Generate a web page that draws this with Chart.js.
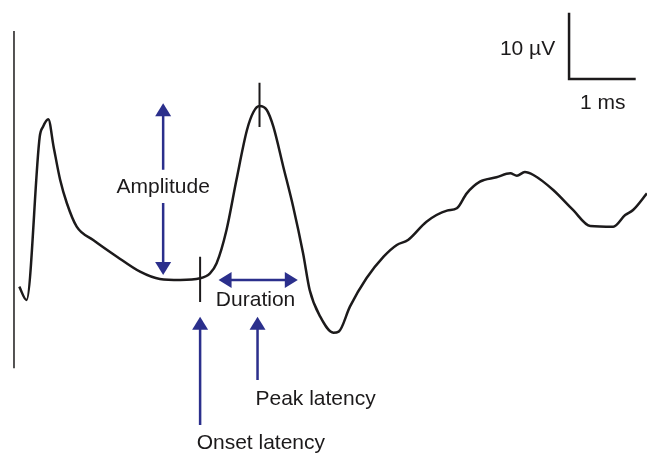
<!DOCTYPE html>
<html>
<head>
<meta charset="utf-8">
<script src="https://cdn.jsdelivr.net/npm/chart.js@4.4.1/dist/chart.umd.min.js"></script>
<style>
  body { margin: 0; background: #fff; }
  #wrap { width: 647px; height: 455px; position: relative; }
</style>
</head>
<body>
<div id="wrap"><canvas id="grafica"></canvas></div>
<script>
// waveform, time in ms, amplitude in microvolts (baseline = 0)
const timeMs = [0.08, 0.19, 0.39, 0.44, 0.52, 0.60, 0.70, 0.80, 0.95, 1.20, 1.56, 1.91, 2.21, 2.52, 2.82, 2.97,
  3.07, 3.22, 3.37, 3.53, 3.63, 3.72, 3.83, 3.93, 4.08, 4.23, 4.38, 4.48, 4.64, 4.84, 4.92, 5.09, 5.34, 5.60,
  5.80, 5.97, 6.25, 6.56, 6.71, 6.86, 7.06, 7.31, 7.52, 7.62, 7.74, 7.87, 8.17, 8.47, 8.73, 9.08, 9.26, 9.38, 9.59];
const microV = [-1.36, -3.44, 22.08, 23.64, 24.80, 20.52, 15.31, 11.72, 8.02, 5.94, 3.33, 0.98, -0.16, -0.31, -0.05, 0.73,
  2.30, 7.50, 15.31, 23.13, 25.98, 26.88, 26.25, 23.64, 17.39, 11.14, 3.86, -1.88, -6.05, -8.55, -8.39, -4.48, -0.05, 3.33,
  5.16, 5.94, 8.80, 10.52, 10.89, 13.23, 15.05, 15.73, 16.36, 15.98, 16.56, 16.09, 13.75, 10.63, 8.13, 8.02, 9.84, 10.63, 13.23];

// markers
const onsetMs = 2.82;
const peakMs = 3.72;
const amplitudeMs = 2.26;
const durationFrom = 3.10, durationTo = 4.30;
const peakV = 26.88;

const labels = ['Amplitude', 'Duration', 'Peak latency', 'Onset latency', '10 \u00b5V', '1 ms'];

const ink = '#1c1a1b';
const blue = '#2b2f8c';

function arrowHead(ctx, x, y, dx, dy) {
  // dx,dy direction unit vector the arrow points to
  var len = 13, half = 8;
  ctx.beginPath();
  ctx.moveTo(x, y);
  ctx.lineTo(x - dx * len - dy * half, y - dy * len + dx * half);
  ctx.lineTo(x - dx * len + dy * half, y - dy * len - dx * half);
  ctx.closePath();
  ctx.fill();
}

const marcas = {
  id: 'marcas',
  afterDatasetsDraw(chart) {
    const ctx = chart.ctx;
    const sx = chart.scales.x, sy = chart.scales.y;
    const X = v => sx.getPixelForValue(v);
    const Y = v => sy.getPixelForValue(v);
    ctx.save();

    // left reference line
    ctx.strokeStyle = ink;
    ctx.lineWidth = 1.5;
    ctx.beginPath();
    ctx.moveTo(X(0), Y(38.6)); ctx.lineTo(X(0), Y(-14.1));
    ctx.stroke();

    // ticks at onset and peak
    ctx.lineWidth = 2;
    ctx.beginPath();
    ctx.moveTo(X(onsetMs), Y(3.3)); ctx.lineTo(X(onsetMs), Y(-3.75));
    ctx.moveTo(X(peakMs), Y(30.5)); ctx.lineTo(X(peakMs), Y(23.6));
    ctx.stroke();

    // scale bar
    ctx.lineWidth = 2.5;
    ctx.beginPath();
    ctx.moveTo(X(8.41), Y(41.45)); ctx.lineTo(X(8.41), Y(31.1)); ctx.lineTo(X(9.42), Y(31.1));
    ctx.stroke();

    // blue arrows
    ctx.strokeStyle = blue;
    ctx.fillStyle = blue;
    ctx.lineWidth = 2.5;
    ctx.beginPath();
    // amplitude (split around label)
    ctx.moveTo(X(amplitudeMs), Y(peakV) + 10); ctx.lineTo(X(amplitudeMs), Y(16.9));
    ctx.moveTo(X(amplitudeMs), Y(11.7)); ctx.lineTo(X(amplitudeMs), Y(0.47) - 10);
    // duration
    ctx.moveTo(X(durationFrom) + 10, Y(-0.31)); ctx.lineTo(X(durationTo) - 10, Y(-0.31));
    // onset latency
    ctx.moveTo(X(onsetMs), Y(-6.05) + 10); ctx.lineTo(X(onsetMs), Y(-22.97));
    // peak latency
    ctx.moveTo(X(3.69), Y(-6.05) + 10); ctx.lineTo(X(3.69), Y(-15.94));
    ctx.stroke();
    arrowHead(ctx, X(amplitudeMs), Y(27.3), 0, -1);
    arrowHead(ctx, X(amplitudeMs), Y(0.47), 0, 1);
    arrowHead(ctx, X(durationFrom), Y(-0.31), -1, 0);
    arrowHead(ctx, X(durationTo), Y(-0.31), 1, 0);
    arrowHead(ctx, X(onsetMs), Y(-6.05), 0, -1);
    arrowHead(ctx, X(3.69), Y(-6.05), 0, -1);

    // texts
    ctx.fillStyle = ink;
    ctx.font = '21px "Liberation Sans", Arial, sans-serif';
    ctx.textBaseline = 'middle';
    ctx.textAlign = 'center';
    ctx.fillText(labels[0], X(amplitudeMs), Y(14.2));
    ctx.fillText(labels[1], X(3.66), Y(-3.44));
    ctx.fillText(labels[2], X(4.57), Y(-18.9));
    ctx.fillText(labels[3], X(3.74), Y(-25.78));
    ctx.fillText(labels[5], X(8.92), Y(27.3));
    ctx.textAlign = 'right';
    ctx.fillText(labels[4], X(8.20), Y(35.8));
    ctx.restore();
  }
};

const puntos = timeMs.map((t, i) => ({ x: t, y: microV[i] }));

new Chart(document.getElementById('grafica'), {
  type: 'scatter',
  data: {
    datasets: [{
      data: puntos,
      showLine: true,
      borderColor: ink,
      borderWidth: 2.5,
      pointRadius: 0,
      tension: 0.4,
      cubicInterpolationMode: 'monotone',
      fill: false
    }]
  },
  options: {
    responsive: true,
    maintainAspectRatio: false,
    animation: false,
    layout: { padding: 0 },
    plugins: { legend: { display: false }, tooltip: { enabled: false } },
    scales: {
      x: { type: 'linear', display: false, min: -0.212, max: 9.591 },
      y: { type: 'linear', display: false, min: -27.66, max: 43.44 }
    }
  },
  plugins: [marcas]
});
</script>
</body>
</html>
